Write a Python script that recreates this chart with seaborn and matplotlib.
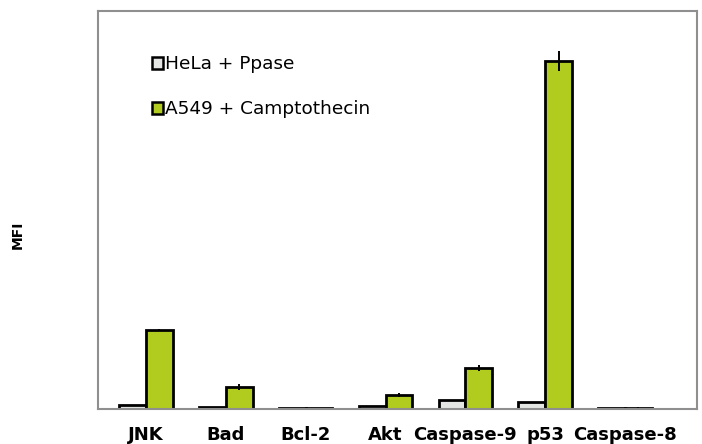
import matplotlib
matplotlib.use("Agg")
import matplotlib.pyplot as plt
import numpy as np
import pandas as pd
import seaborn as sns

# values (arbitrary MFI units)
targets = ['JNK', 'Bad', 'Bcl-2', 'Akt', 'Caspase-9', 'p53', 'Caspase-8']
hela_ppase = [4, 2.5, 1, 3, 9, 7, 1]
a549_campto = [79, 22, 1, 14, 41, 348, 1.5]
hela_err = [0, 0, 0, 0, 0, 0, 0]
a549_err = [1, 3, 0.5, 2, 3, 10, 0.5]
series = ['HeLa + Ppase', 'A549 + Camptothecin']

df = pd.DataFrame({
    'target': targets * 2,
    'MFI': hela_ppase + a549_campto,
    'group': [series[0]] * len(targets) + [series[1]] * len(targets),
})

sns.set_style('white')
plt.rcParams['font.family'] = ['DejaVu Sans']
plt.rcParams['text.color'] = 'black'

fig = plt.figure(figsize=(7.02, 4.44), dpi=100)
ax = fig.add_axes([98 / 702, 35 / 444, 599 / 702, 398 / 444])

palette = {series[0]: '#e4e6e4', series[1]: '#b1cb1e'}
sns.barplot(data=df, x='target', y='MFI', hue='group', order=targets,
            hue_order=series, palette=palette, width=0.67, errorbar=None,
            edgecolor='black', linewidth=2, saturation=1, ax=ax)

# error bars on top of the bars
errs = {series[0]: hela_err, series[1]: a549_err}
vals = {series[0]: hela_ppase, series[1]: a549_campto}
for cont, name in zip(ax.containers, series):
    for bar, v, e in zip(cont, vals[name], errs[name]):
        if e > 0:
            xc = bar.get_x() + bar.get_width() / 2
            ax.errorbar(xc, v, yerr=e, color='black', lw=1.4, capsize=0)

ax.set_xlim(-0.6, 6.9)
ax.set_ylim(0, 398)
ax.set_yticks([])
ax.set_xlabel('')
ax.set_ylabel('')
fig.text(18 / 702, 1 - 235 / 444, 'MFI', rotation=90, fontsize=10,
         fontweight='bold', ha='center', va='center')
ax.tick_params(axis='x', length=0, pad=12, labelcolor='black')
for lab in ax.get_xticklabels():
    lab.set_fontweight('bold')
    lab.set_fontsize(13)

for sp in ax.spines.values():
    sp.set_color('#8f8f8f')
    sp.set_linewidth(1.5)

leg = ax.legend(loc='upper left', bbox_to_anchor=(0.062, 0.93), frameon=False,
                fontsize=13.3, handlelength=0.62, handleheight=0.62,
                handletextpad=0.12, labelspacing=1.45)
for h in leg.legend_handles:
    h.set_edgecolor('black')
    h.set_linewidth(1.8)
for t in leg.get_texts():
    t.set_color('black')

fig.savefig('out.png', dpi=100)
